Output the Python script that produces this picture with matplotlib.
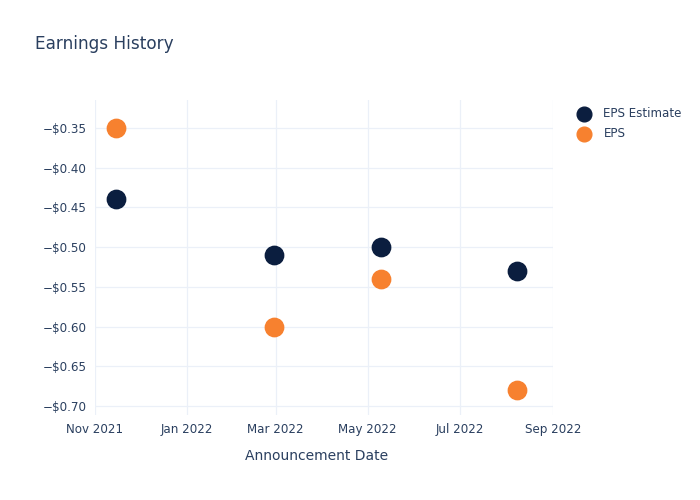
import matplotlib
matplotlib.use("Agg")
import matplotlib.pyplot as plt
import matplotlib.dates as mdates
import matplotlib.ticker as mticker
import pandas as pd

# data
dates = pd.to_datetime(["2021-11-15", "2022-02-28", "2022-05-10", "2022-08-08"])
eps_estimate = [-0.44, -0.51, -0.50, -0.53]
eps_actual = [-0.35, -0.60, -0.54, -0.68]

text_color = "#2a3f5f"
grid_color = "#ebf0f8"

plt.rcParams["font.family"] = ["DejaVu Sans"]

fig = plt.figure(figsize=(7, 5), dpi=100)
ax = fig.add_axes([95 / 700, 85 / 500, 458 / 700, 315 / 500])

ax.scatter(dates, eps_estimate, s=175, color="#0b1e3f", label="EPS Estimate", zorder=3)
ax.scatter(dates, eps_actual, s=175, color="#f7812f", label="EPS", zorder=3)

ax.set_xlim(pd.Timestamp("2021-11-01"), pd.Timestamp("2022-09-01"))
ax.set_ylim(-0.711, -0.315)

ax.xaxis.set_major_locator(mdates.MonthLocator(bymonth=[1, 3, 5, 7, 9, 11]))
ax.xaxis.set_major_formatter(mdates.DateFormatter("%b %Y"))
ax.set_yticks([-0.35, -0.40, -0.45, -0.50, -0.55, -0.60, -0.65, -0.70])
ax.yaxis.set_major_formatter(mticker.FuncFormatter(lambda v, p: f"\u2212${abs(v):.2f}"))

ax.grid(True, color=grid_color, linewidth=0.9)
ax.set_axisbelow(True)
for s in ax.spines.values():
    s.set_visible(False)
ax.tick_params(length=0, colors=text_color, labelsize=8.6)
ax.tick_params(axis="x", pad=6)
ax.tick_params(axis="y", pad=6)

ax.set_xlabel("Announcement Date", color=text_color, fontsize=10)
ax.xaxis.set_label_coords((317 - 95) / 458, -0.108)
fig.text(35 / 700, 1 - 44 / 500, "Earnings History", color=text_color, fontsize=12.2, va="center")

leg = ax.legend(loc="upper left", bbox_to_anchor=(1.045, 0.992), frameon=False,
                fontsize=8.6, labelcolor=text_color, handletextpad=1.1,
                labelspacing=0.55, borderaxespad=0, handlelength=1.0, markerscale=0.8)

plt.savefig("out.png", dpi=100)
